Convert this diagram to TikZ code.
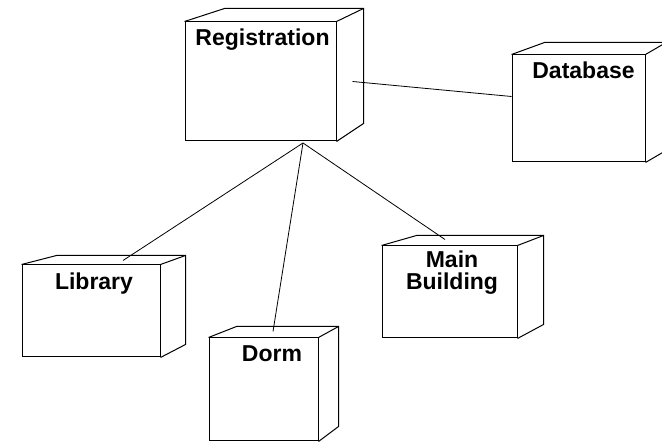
\documentclass[tikz,border=0pt]{standalone}
\usepackage{fontspec}
\setmainfont{Liberation Sans}
\usetikzlibrary{positioning}

\begin{document}
\begin{tikzpicture}[x=1pt,y=-1pt,line width=1pt,
                    every edge/.style={draw,line width=0.8pt}]
  \tikzstyle{device}=[draw=black,fill=white,inner sep=0pt]
  \tikzstyle{devlabel}=[anchor=base,align=center,inner sep=0pt,
                        font=\fontsize{23}{22}\selectfont\bfseries]
  \useasboundingbox (0,0) rectangle (662,443);

  % front faces
  \node[device, minimum width=151, minimum height=119] (reg)  at (260.5,81.5) {};
  \node[device, minimum width=133, minimum height=107] (db)   at (578.5,108.5) {};
  \node[device, minimum width=138, minimum height=92]  (lib)  at (91,311) {};
  \node[device, minimum width=109, minimum height=103] (dorm) at (263.5,389.5) {};
  \node[device, minimum width=135, minimum height=92]  (main) at (449.5,292) {};

  % top and side faces
  \draw (reg.north west) -- ++(40,-13) -| ([shift={(27,-18)}]reg.south east) -- (reg.south east)
        (reg.north east) -- ++(27,-13);
  \draw (db.north west) -- ++(33,-12) -| ([shift={(24,-14)}]db.south east) -- (db.south east)
        (db.north east) -- ++(24,-14);
  \draw (lib.north west) -- ++(35,-9) -| ([shift={(25,-13)}]lib.south east) -- (lib.south east)
        (lib.north east) -- ++(25,-9);
  \draw (dorm.north west) -- ++(28,-11) -| ([shift={(20,-15)}]dorm.south east) -- (dorm.south east)
        (dorm.north east) -- ++(20,-11);
  \draw (main.north west) -- ++(35,-10) -| ([shift={(26,-14)}]main.south east) -- (main.south east)
        (main.north east) -- ++(26,-10);

  % names
  \node[devlabel] at ([shift={(2,24)}]reg.north)    {Registration};
  \node[devlabel] at ([shift={(5,24)}]db.north)     {Database};
  \node[devlabel] at ([shift={(3,25)}]lib.north)    {Library};
  \node[devlabel] at ([shift={(8.5,24)}]dorm.north) {Dorm};
  \node[devlabel] at ([shift={(2.5,44)}]main.north) {Main\\Building};

  % links
  \coordinate (hub) at (303,143);
  \coordinate (regside) at ([xshift=16pt]reg.east);
  \path (regside) edge ([yshift=12pt]db.west)
        (hub)     edge ([shift={(32,-4)}]lib.north)
        (hub)     edge ([shift={(9.5,-6)}]dorm.north)
        (hub)     edge ([shift={(-4.5,-6)}]main.north);
\end{tikzpicture}
\end{document}
